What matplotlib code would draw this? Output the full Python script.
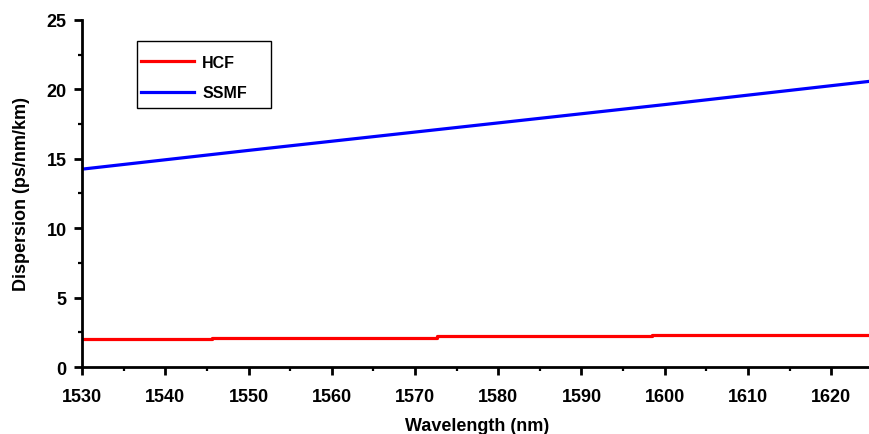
import matplotlib
matplotlib.use("Agg")
from matplotlib import pyplot as plt
from matplotlib.patches import Rectangle
from matplotlib.ticker import MultipleLocator

# HCF: small steps in dispersion across the band
hcf_wl = [1530, 1545.6, 1545.6, 1572.6, 1572.6, 1598.5, 1598.5, 1625]
hcf_d = [2.02, 2.02, 2.1, 2.1, 2.2, 2.2, 2.33, 2.33]

# SSMF: nearly linear rise
ssmf_wl = [1530, 1550, 1575, 1600, 1625]
ssmf_d = [14.25, 15.6, 17.25, 18.9, 20.6]

plt.rcParams['font.family'] = ['Liberation Sans', 'DejaVu Sans']
plt.rcParams['font.weight'] = 'bold'

fig = plt.figure(figsize=(8.69, 4.35), dpi=100)
ax = fig.add_axes([0.0944, 0.154, 0.91, 0.798])

ax.plot(hcf_wl, hcf_d, color='#ff0000', lw=2.3, label='HCF')
ax.plot(ssmf_wl, ssmf_d, color='#0000ff', lw=2.3, label='SSMF')

ax.set_xlim(1530, 1625)
ax.set_ylim(0, 25)
ax.xaxis.set_major_locator(MultipleLocator(10))
ax.xaxis.set_minor_locator(MultipleLocator(5))
ax.yaxis.set_major_locator(MultipleLocator(5))
ax.yaxis.set_minor_locator(MultipleLocator(2.5))

for s in ['top', 'right']:
    ax.spines[s].set_visible(False)
for s in ['left', 'bottom']:
    ax.spines[s].set_linewidth(2)
ax.tick_params(which='major', direction='out', length=6, width=2, labelsize=13, pad=5)
ax.tick_params(which='minor', direction='out', length=3, width=1.6)
ax.tick_params(axis='x', which='major', pad=9)

ax.set_xlabel('Wavelength (nm)', fontsize=13, fontweight='bold', labelpad=9)
ax.set_ylabel('Dispersion (ps/nm/km)', fontsize=13, fontweight='bold', labelpad=12)

# legend without its own frame; box drawn separately (wide right margin)
leg = ax.legend(loc='upper left', bbox_to_anchor=(0.059, 0.937), fontsize=11.5,
                frameon=False, handlelength=3.3, borderpad=0.3,
                labelspacing=1.0, handletextpad=0.5)
ax.add_patch(Rectangle((0.0696, 0.746), 0.1696, 0.193, transform=ax.transAxes,
                       fill=False, edgecolor='black', lw=1.0, clip_on=False))

plt.savefig('out.png', dpi=100)
